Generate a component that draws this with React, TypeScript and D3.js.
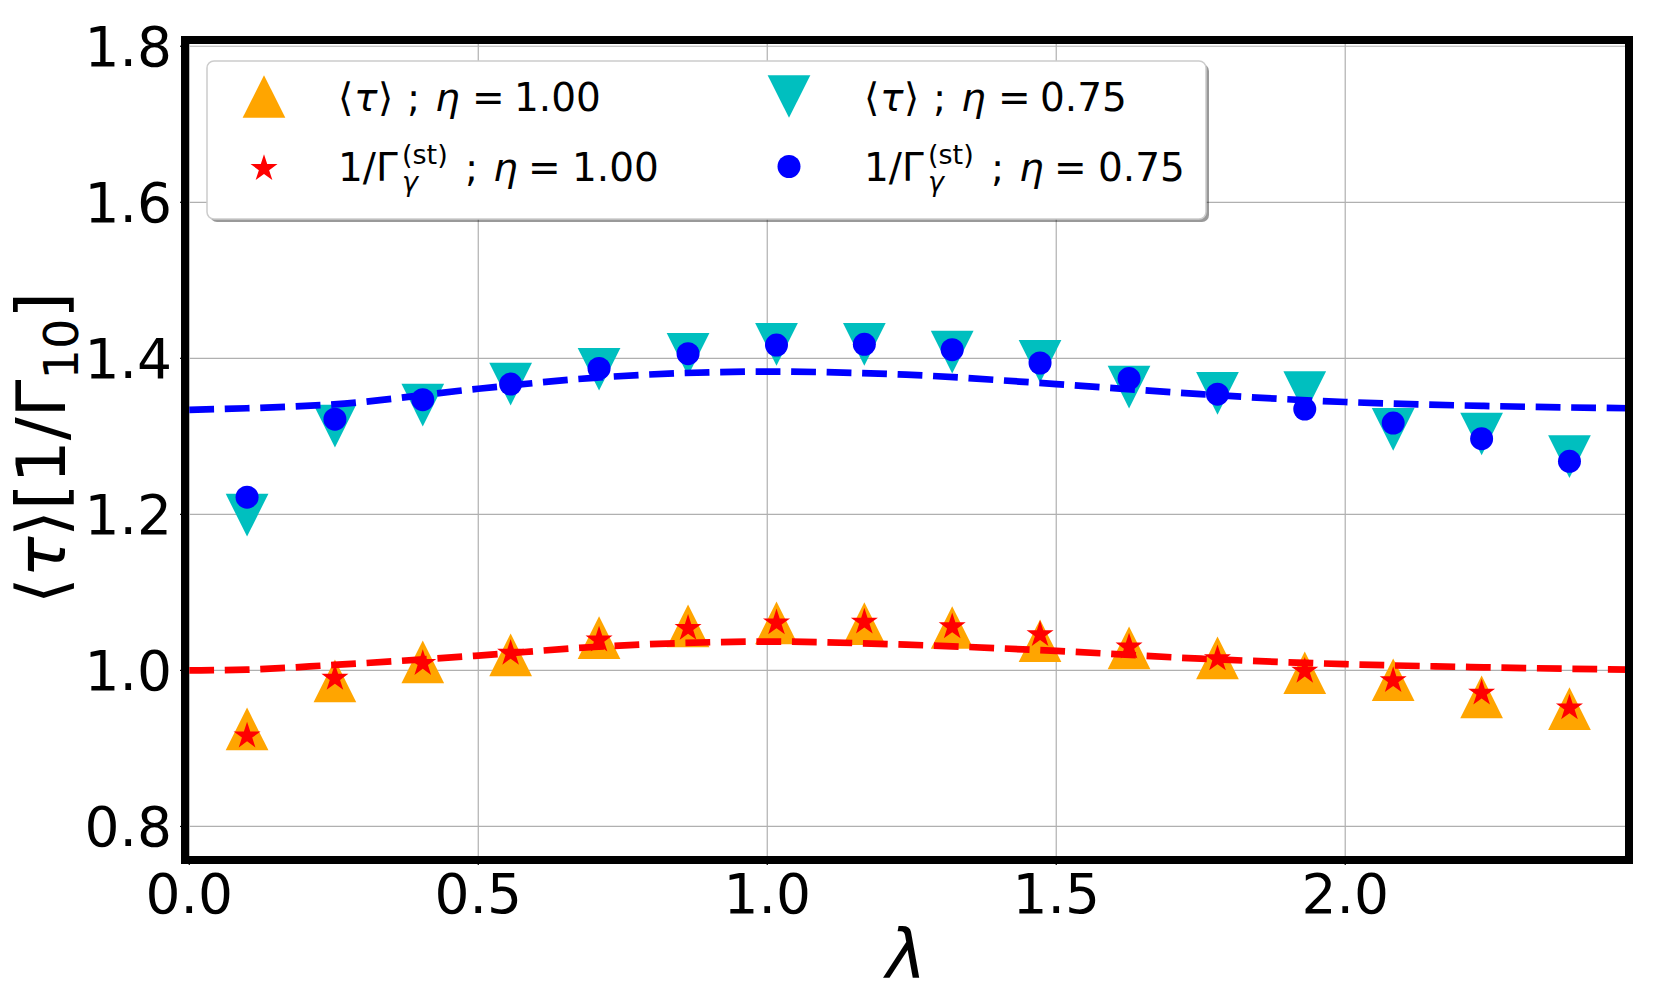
import { useEffect, useRef } from "react";
import * as d3 from "d3";

// lambda positions of the simulated points
const lambdaVals = [
  0.1, 0.252, 0.404, 0.556, 0.709, 0.863, 1.016, 1.168, 1.32, 1.472, 1.626,
  1.779, 1.93, 2.083, 2.236, 2.388,
];

// <tau>, eta = 1.00 (orange up-triangles)
const tauEta100 = [
  0.925, 0.9865, 1.011, 1.02, 1.042, 1.057, 1.061, 1.06, 1.055, 1.038, 1.029,
  1.016, 0.997, 0.988, 0.966, 0.951,
];
// 1/Gamma_gamma^(st), eta = 1.00 (red stars)
const gammaEta100 = [
  0.916, 0.99, 1.009, 1.022, 1.039, 1.054, 1.061, 1.062, 1.056, 1.046, 1.03,
  1.015, 0.999, 0.987, 0.971, 0.952,
];
// <tau>, eta = 0.75 (cyan down-triangles)
const tauEta075 = [
  1.199, 1.313, 1.34, 1.367, 1.386, 1.405, 1.418, 1.418, 1.408, 1.396, 1.363,
  1.355, 1.356, 1.309, 1.303, 1.274,
];
// 1/Gamma_gamma^(st), eta = 0.75 (blue circles)
const gammaEta075 = [
  1.222, 1.322, 1.347, 1.367, 1.387, 1.406, 1.417, 1.418, 1.411, 1.394, 1.374,
  1.354, 1.335, 1.317, 1.297, 1.268,
];

const theoryLambda = [0, 0.1, 0.25, 0.5, 0.7, 0.85, 1.0, 1.24, 1.5, 1.75, 2.0, 2.24, 2.49];
const theoryEta100 = [1.0, 1.001, 1.007, 1.019, 1.03, 1.035, 1.037, 1.033, 1.025, 1.015, 1.008, 1.004, 1.001];
const theoryEta075 = [1.334, 1.336, 1.341, 1.361, 1.375, 1.381, 1.383, 1.379, 1.367, 1.354, 1.344, 1.339, 1.336];

const xTicks = [0, 0.5, 1.0, 1.5, 2.0];
const yTicks = [0.8, 1.0, 1.2, 1.4, 1.6, 1.8];
const etaLabels = ["1.00", "0.75"];

const FONT = "DejaVu Sans, sans-serif";

function starPath(r: number) {
  const pts: [number, number][] = [];
  for (let k = 0; k < 10; k++) {
    const a = -Math.PI / 2 + (k * Math.PI) / 5;
    const rr = k % 2 === 0 ? r : r * 0.381966;
    pts.push([rr * Math.cos(a), rr * Math.sin(a)]);
  }
  return "M" + pts.map((p) => p.join(",")).join("L") + "Z";
}

function triPath(s: number, up: boolean) {
  const h = s / 2;
  return up
    ? `M0,${-h}L${h},${h}L${-h},${h}Z`
    : `M0,${h}L${h},${-h}L${-h},${-h}Z`;
}

export default function App() {
  const svgRef = useRef<SVGSVGElement | null>(null);

  useEffect(() => {
    if (!svgRef.current) return;
    const W = 1680;
    const H = 988;
    const left = 185, right = 1629, top = 40, bottom = 860;

    const svg = d3.select(svgRef.current).attr("width", W).attr("height", H);
    svg.selectAll("*").remove();
    svg.append("rect").attr("width", W).attr("height", H).attr("fill", "#fff");

    const x = d3.scaleLinear().domain([-0.0074, 2.491]).range([left, right]);
    const y = d3.scaleLinear().domain([0.757, 1.808]).range([bottom, top]);

    svg
      .append("defs")
      .append("clipPath")
      .attr("id", "plotclip")
      .append("rect")
      .attr("x", left)
      .attr("y", top)
      .attr("width", right - left)
      .attr("height", bottom - top);

    // grid
    const grid = svg.append("g").attr("stroke", "#b0b0b0").attr("stroke-width", 1.2);
    xTicks.forEach((t) =>
      grid.append("line").attr("x1", x(t)).attr("x2", x(t)).attr("y1", top).attr("y2", bottom)
    );
    yTicks.forEach((t) =>
      grid.append("line").attr("x1", left).attr("x2", right).attr("y1", y(t)).attr("y2", y(t))
    );

    const plot = svg.append("g").attr("clip-path", "url(#plotclip)");
    const idx = d3.range(lambdaVals.length);

    const triSize = 42.7;
    plot
      .selectAll("path.tu")
      .data(idx)
      .enter()
      .append("path")
      .attr("d", triPath(triSize, true))
      .attr("transform", (i) => `translate(${x(lambdaVals[i])},${y(tauEta100[i])})`)
      .attr("fill", "#ffa500");

    plot
      .selectAll("path.td")
      .data(idx)
      .enter()
      .append("path")
      .attr("d", triPath(triSize, false))
      .attr("transform", (i) => `translate(${x(lambdaVals[i])},${y(tauEta075[i])})`)
      .attr("fill", "#00bfbf");

    plot
      .selectAll("path.st")
      .data(idx)
      .enter()
      .append("path")
      .attr("d", starPath(14.2))
      .attr("transform", (i) => `translate(${x(lambdaVals[i])},${y(gammaEta100[i])})`)
      .attr("fill", "#ff0000");

    plot
      .selectAll("circle.ci")
      .data(idx)
      .enter()
      .append("circle")
      .attr("cx", (i) => x(lambdaVals[i]))
      .attr("cy", (i) => y(gammaEta075[i]))
      .attr("r", 11.5)
      .attr("fill", "#0000ff");

    const line = (vals: number[]) =>
      d3
        .line<number>()
        .x((i) => x(theoryLambda[i]))
        .y((i) => y(vals[i]))
        .curve(d3.curveMonotoneX)(d3.range(theoryLambda.length));

    [
      { vals: theoryEta075, color: "#0000ff" },
      { vals: theoryEta100, color: "#ff0000" },
    ].forEach((s) =>
      plot
        .append("path")
        .attr("d", line(s.vals) as string)
        .attr("fill", "none")
        .attr("stroke", s.color)
        .attr("stroke-width", 6.7)
        .attr("stroke-dasharray", "24.8 10.7")
    );

    // ticks + labels
    const ticks = svg.append("g").attr("stroke", "#000").attr("stroke-width", 1.2);
    xTicks.forEach((t) =>
      ticks.append("line").attr("x1", x(t)).attr("x2", x(t)).attr("y1", bottom).attr("y2", bottom + 5)
    );
    yTicks.forEach((t) =>
      ticks.append("line").attr("x1", left - 5).attr("x2", left).attr("y1", y(t)).attr("y2", y(t))
    );

    svg
      .append("g")
      .selectAll("text")
      .data(xTicks)
      .enter()
      .append("text")
      .attr("x", (d) => x(d))
      .attr("y", 913)
      .attr("text-anchor", "middle")
      .attr("font-family", FONT)
      .attr("font-size", 55)
      .text((d) => d.toFixed(1));

    svg
      .append("g")
      .selectAll("text")
      .data(yTicks)
      .enter()
      .append("text")
      .attr("x", 172)
      .attr("y", (d) => y(d) + 20)
      .attr("text-anchor", "end")
      .attr("font-family", FONT)
      .attr("font-size", 55)
      .text((d) => d.toFixed(1));

    // spines
    svg
      .append("rect")
      .attr("x", left)
      .attr("y", top)
      .attr("width", right - left)
      .attr("height", bottom - top)
      .attr("fill", "none")
      .attr("stroke", "#000")
      .attr("stroke-width", 8);

    // axis labels
    const yl = svg
      .append("text")
      .attr("transform", "translate(65,448) rotate(-90)")
      .attr("text-anchor", "middle")
      .attr("font-family", FONT)
      .attr("font-size", 68);
    yl.append("tspan").text("⟨");
    yl.append("tspan").attr("font-style", "italic").text("τ");
    yl.append("tspan").text("⟩[1/Γ");
    yl.append("tspan").attr("font-size", 48).attr("dy", 13).text("10");
    yl.append("tspan").attr("dy", -13).text("]");

    svg
      .append("text")
      .attr("x", 906)
      .attr("y", 978)
      .attr("text-anchor", "middle")
      .attr("font-family", FONT)
      .attr("font-size", 68)
      .attr("font-style", "italic")
      .text("λ");

    // legend
    const lg = svg.append("g");
    lg.append("rect")
      .attr("x", 210)
      .attr("y", 64)
      .attr("width", 999)
      .attr("height", 158)
      .attr("rx", 7)
      .attr("fill", "#000")
      .attr("opacity", 0.4);
    lg.append("rect")
      .attr("x", 207)
      .attr("y", 61)
      .attr("width", 999)
      .attr("height", 158)
      .attr("rx", 7)
      .attr("fill", "#fff")
      .attr("stroke", "#cccccc")
      .attr("stroke-width", 1.5);

    const colMarkerX = [264, 789];
    const colTextX = [338, 864];
    const rowMarkerY = [96.5, 166.5];
    const rowBase = [111, 181];

    colMarkerX.forEach((mx, c) => {
      lg.append("path")
        .attr("d", triPath(triSize, c === 0))
        .attr("transform", `translate(${mx},${rowMarkerY[0]})`)
        .attr("fill", c === 0 ? "#ffa500" : "#00bfbf");
      if (c === 0) {
        lg.append("path")
          .attr("d", starPath(14.2))
          .attr("transform", `translate(${mx},${rowMarkerY[1] + 2})`)
          .attr("fill", "#ff0000");
      } else {
        lg.append("circle")
          .attr("cx", mx)
          .attr("cy", rowMarkerY[1])
          .attr("r", 11.5)
          .attr("fill", "#0000ff");
      }

      const tx = colTextX[c];
      const row1 = lg
        .append("text")
        .attr("y", rowBase[0])
        .attr("font-family", FONT)
        .attr("font-size", 39);
      const seg = (
        t: d3.Selection<SVGTextElement, unknown, null, undefined>,
        s: string,
        dx: number,
        opts: { italic?: boolean; size?: number; dy?: number } = {}
      ) =>
        t
          .append("tspan")
          .attr("x", tx + dx)
          .attr("y", (t.attr("y") ? +t.attr("y") : 0) + (opts.dy ?? 0))
          .attr("font-size", opts.size ?? 39)
          .attr("font-style", opts.italic ? "italic" : "normal")
          .text(s);

      seg(row1, "⟨", 0);
      seg(row1, "τ", 16, { italic: true });
      seg(row1, "⟩", 40);
      seg(row1, ";", 69);
      seg(row1, "η", 97, { italic: true });
      seg(row1, "=", 134);
      seg(row1, etaLabels[c], 176);

      const row2 = lg
        .append("text")
        .attr("y", rowBase[1])
        .attr("font-family", FONT)
        .attr("font-size", 39);
      seg(row2, "1/Γ", 0);
      seg(row2, "(st)", 64, { size: 27, dy: -17 });
      seg(row2, "γ", 64, { italic: true, size: 27, dy: 10 });
      seg(row2, ";", 127);
      seg(row2, "η", 155, { italic: true });
      seg(row2, "=", 190);
      seg(row2, etaLabels[c], 234);
    });
  }, []);

  return (
    <svg
      ref={svgRef}
      style={{ position: "absolute", left: 0, top: 0, display: "block" }}
    ></svg>
  );
}
